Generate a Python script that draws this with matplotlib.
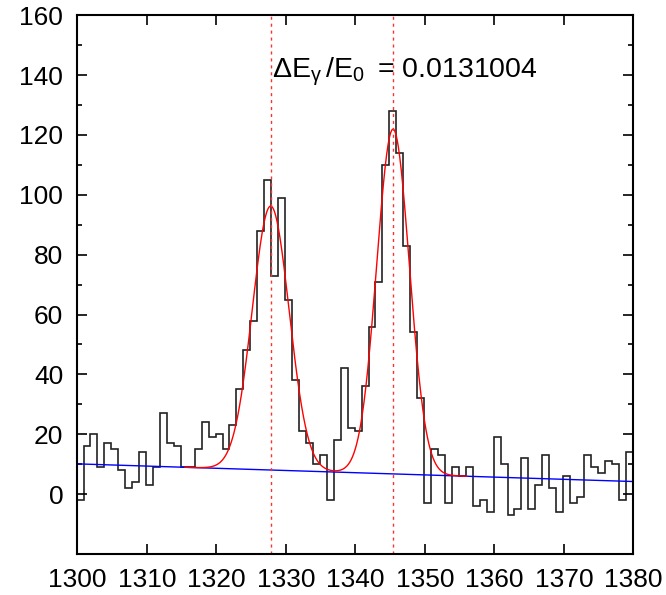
import numpy as np
import matplotlib
matplotlib.use("Agg")
import matplotlib.pyplot as plt
from matplotlib.ticker import FixedLocator

plt.rcParams['font.family'] = ['Liberation Sans', 'DejaVu Sans']
plt.rcParams['mathtext.default'] = 'regular'

# histogram: counts per 1-unit bin, first lower edge just left of 1300
bin_start = 1299.9
counts = [-2, 16, 20, 9, 17, 15, 8, 2, 4, 14,
          3, 9, 27, 17, 16, 9, 9, 15, 24, 19,
          20, 15, 23, 35, 48, 58, 88, 105, 73, 99,
          65, 38, 21, 17, 10, 13, -2, 18, 42, 22,
          21, 36, 56, 71, 110, 128, 114, 83, 54, 32,
          -3, 15, 13, -3, 9, 6, 9, -4, -2, -6,
          19, 10, -7, -5, 12, -5, 3, 13, 2, -6,
          6, -3, -1, 13, 9, 7, 11, 10, -2, 14]

# fit: linear background + two gaussians
bg_ends = [10.1, 4.2]          # background at 1300 and 1380
peak_pos = [1327.83, 1345.43]
peak_amp = [88.2, 115.2]
peak_sigma = [2.65, 2.35]
fit_range = [1315.5, 1356.0]
label = r'$\Delta$E$_{\gamma}$$\,$/E$_{0}$$\,$ = 0.0131004'

edges = bin_start + np.arange(len(counts) + 1)


def background(x):
    return bg_ends[0] + (bg_ends[1] - bg_ends[0]) * (x - 1300) / 80.0


def fit(x):
    y = background(x)
    for p, a, s in zip(peak_pos, peak_amp, peak_sigma):
        y = y + a * np.exp(-(x - p) ** 2 / (2 * s ** 2))
    return y


fig = plt.figure(figsize=(6.66, 5.95), dpi=100)
ax = fig.add_axes([0.116, 0.069, 0.835, 0.9053])

ax.stairs(counts, edges, baseline=None, color='#222222', lw=1.2)

xb = np.linspace(1300, 1380, 200)
ax.plot(xb, background(xb), color='blue', lw=1.0)

xf = np.linspace(fit_range[0], fit_range[1], 600)
ax.plot(xf, fit(xf), color='red', lw=1.0)

for p in peak_pos:
    ax.axvline(p, color='#ff3030', lw=1.0, linestyle=(0, (2.2, 2.8)))

ax.text(1327.97, 139.3, label, fontsize=20.5, ha='left', va='baseline')

ax.set_xlim(1300, 1380)
ax.set_ylim(-20, 160)
ax.set_xticks(np.arange(1300, 1381, 10))
ax.set_yticks(np.arange(0, 161, 20))
ax.yaxis.set_minor_locator(FixedLocator(np.arange(10, 160, 20)))

ax.tick_params(which='both', direction='in', top=True, right=True,
               labelsize=19, width=1.2)
ax.tick_params(which='major', length=7, pad=10)
ax.tick_params(which='minor', length=3.5)
for s in ax.spines.values():
    s.set_linewidth(1.5)

fig.savefig("out.png", dpi=100)
